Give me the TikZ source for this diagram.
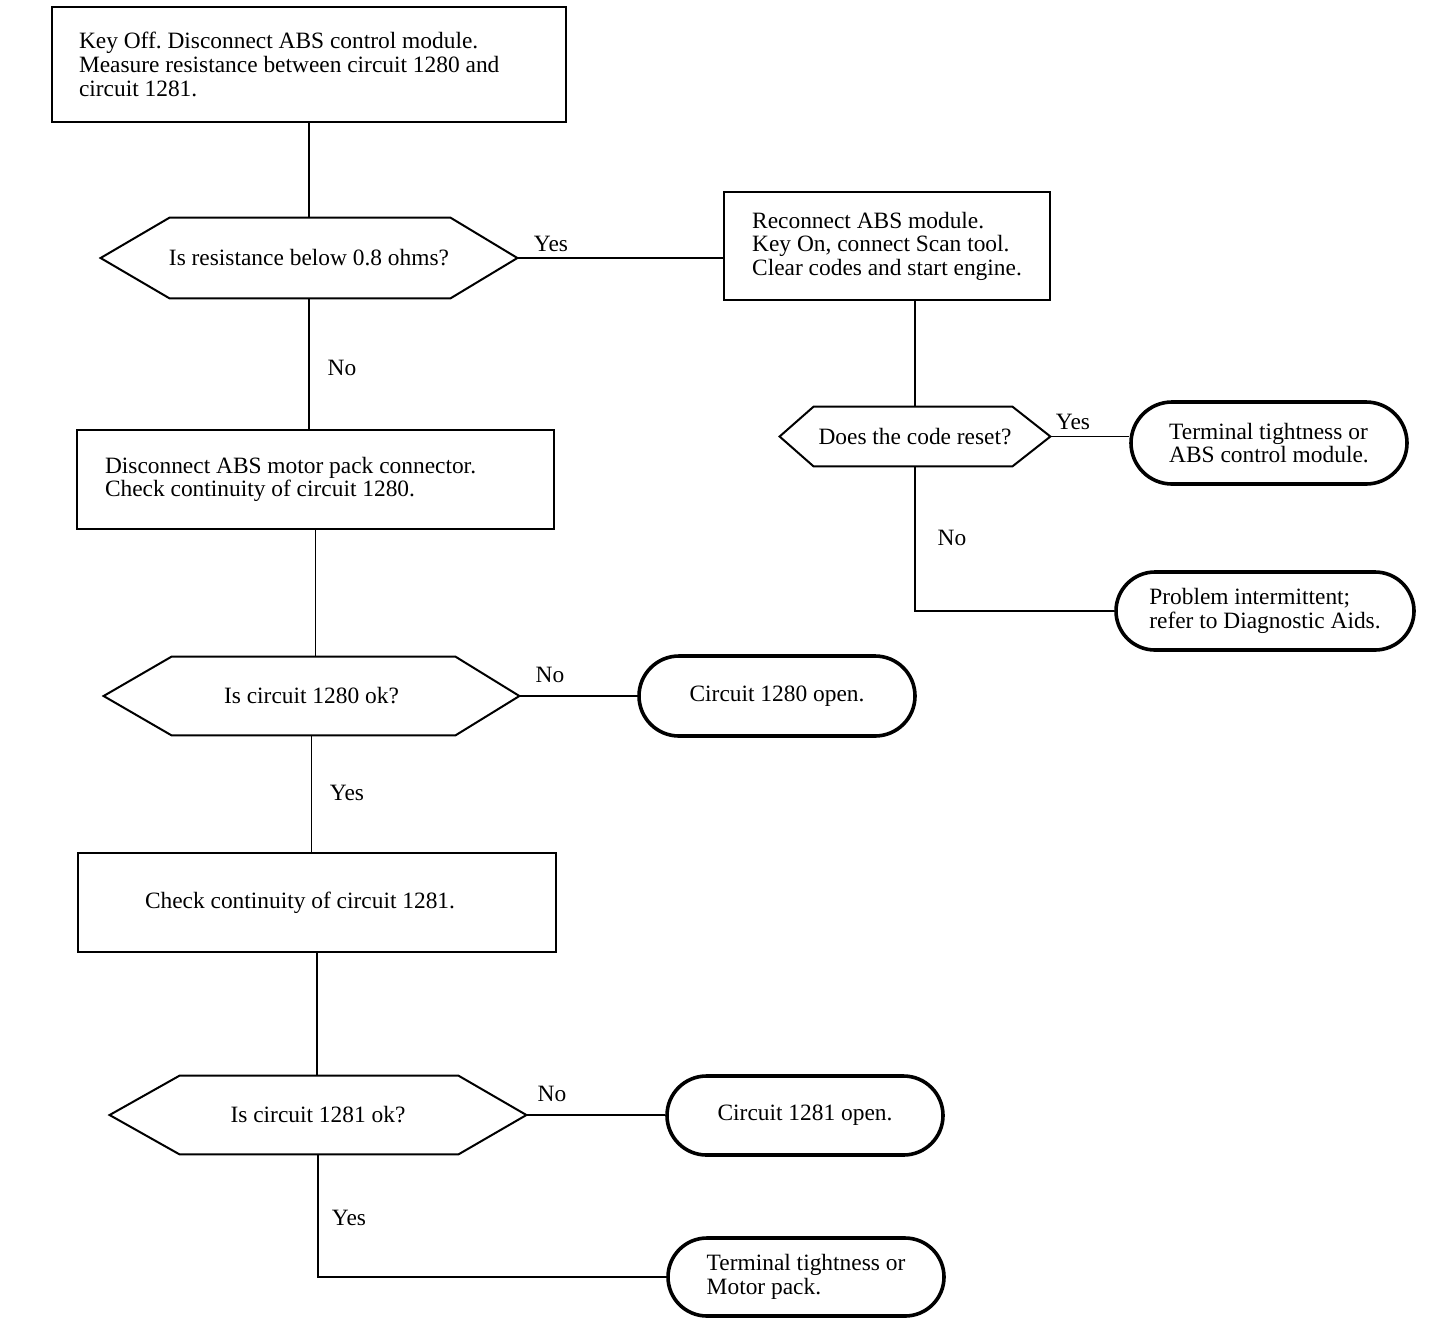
\documentclass[tikz,border=0pt]{standalone}
\usepackage{fontspec}
\setmainfont{Liberation Serif}
\usetikzlibrary{shapes.misc}
\frenchspacing
\newcommand\hexshape[3]{\draw[hexline] (#1.west) -- ([xshift=#2]#1.north west) -- ([xshift=-#3]#1.north east) -- (#1.east) -- ([xshift=-#3]#1.south east) -- ([xshift=#2]#1.south west) -- cycle;}
\begin{document}
\begin{tikzpicture}[x=0.5pt,y=-0.5pt,
  font=\fontsize{11.7}{11.8}\selectfont,
  box/.style={draw, line width=1pt, rectangle, align=flush left, inner ysep=0pt},
  term/.style={draw, line width=1.8pt, rounded rectangle, align=flush left, inner sep=0pt},
  dec/.style={inner sep=0pt, align=center},
  hexline/.style={line width=1pt, line join=miter},
  con/.style={line width=0.8pt},
  lab/.style={inner sep=0pt}]
\useasboundingbox (0,0) rectangle (1440,1324);

% process boxes
\node[box, minimum width=257pt, minimum height=57.5pt, inner xsep=13.5pt, text width=230pt] (b1) at (309,64.5)
  {Key Off. Disconnect ABS control module.\\ Measure resistance between circuit 1280 and\\ circuit 1281.};
\node[box, minimum width=163pt, minimum height=54pt] (b2) at (887,246)
  {Reconnect ABS module.\\ Key On, connect Scan tool.\\ Clear codes and start engine.};
\node[box, minimum width=238.5pt, minimum height=49.5pt, inner xsep=14pt, text width=210.5pt] (b3) at (315.5,479.5)
  {Disconnect ABS motor pack connector.\\ Check continuity of circuit 1280.};
\node[box, minimum width=239pt, minimum height=49.5pt, inner xsep=33.5pt, text width=172pt] (b4) at (317,902.5)
  {Check continuity of circuit 1281.};

% decisions
\node[dec, minimum width=208pt, minimum height=40pt] (d1) at (309,258) {Is resistance below 0.8 ohms?};
\node[dec, minimum width=135pt, minimum height=29.5pt] (d2) at (915,436.5) {Does the code reset?};
\node[dec, minimum width=207.5pt, minimum height=39pt] (d3) at (311.5,696) {Is circuit 1280 ok?};
\node[dec, minimum width=208pt, minimum height=39pt] (d4) at (318,1115) {Is circuit 1281 ok?};
\hexshape{d1}{34.5pt}{33.5pt}
\hexshape{d2}{17pt}{19pt}
\hexshape{d3}{34pt}{32pt}
\hexshape{d4}{35pt}{34pt}

% terminals
\node[term, minimum width=138pt, minimum height=41pt] (t1) at (1269,443) {Terminal tightness or\\ ABS control module.};
\node[term, minimum width=149pt, minimum height=39pt] (t2) at (1265,611) {Problem intermittent;\\ refer to Diagnostic Aids.};
\node[term, minimum width=138pt, minimum height=40pt] (t3) at (777,696) {Circuit 1280 open.};
\node[term, minimum width=138pt, minimum height=39.5pt] (t4) at (805,1115.5) {Circuit 1281 open.};
\node[term, minimum width=138pt, minimum height=39pt] (t5) at (806,1277) {Terminal tightness or\\ Motor pack.};

% connectors
\draw[con] (b1.south) -- (d1.north);
\draw[con] (d1.east) -- (d1.east -| b2.west);
\draw[con] (d2.north |- b2.south) -- (d2.north);
\draw[con] (d2.east) -- (d2.east -| t1.west);
\draw[con] (d2.south) |- (t2.west);
\draw[con] (d1.south) -- (d1.south |- b3.north);
\draw[con] (b3.south) -- (b3.south |- d3.north);
\draw[con] (d3.east) -- (d3.east -| t3.west);
\draw[con] (d3.south) -- (d3.south |- b4.north);
\draw[con] (b4.south) -- (b4.south |- d4.north);
\draw[con] (d4.east) -- (d4.east -| t4.west);
\draw[con] (d4.south) |- (t5.west);

% labels
\node[lab] (l1) at (551,244) {Yes};
\node[lab] (l2) at (342,368) {No};
\node[lab] (l3) at (1073,422) {Yes};
\node[lab] (l4) at (952,538) {No};
\node[lab] (l5) at (550,675) {No};
\node[lab] (l6) at (347,793) {Yes};
\node[lab] (l7) at (552,1094) {No};
\node[lab] (l8) at (349,1218) {Yes};
\end{tikzpicture}
\end{document}
